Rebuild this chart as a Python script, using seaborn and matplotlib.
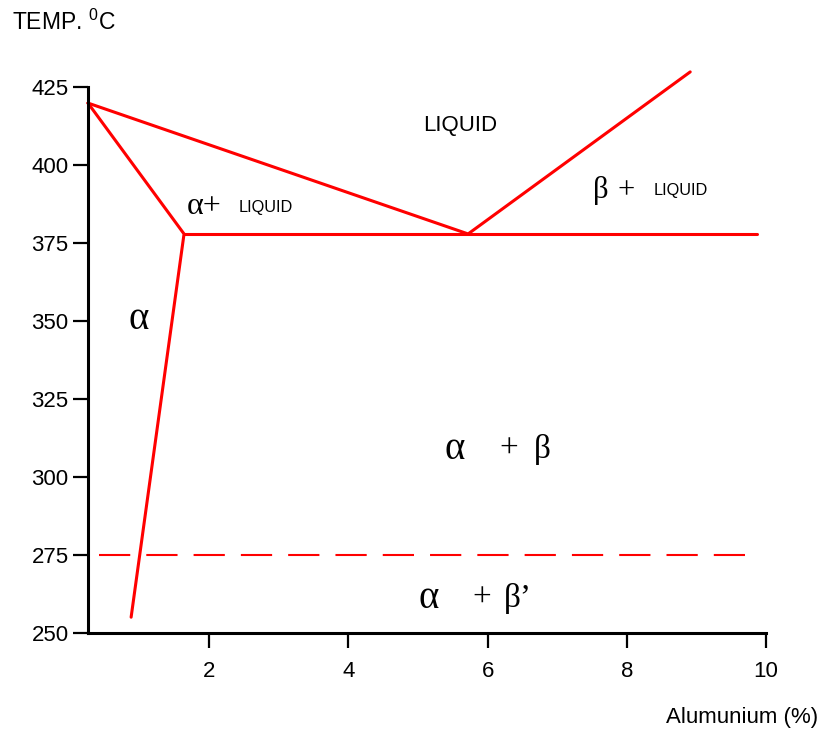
import matplotlib
matplotlib.use("Agg")
import matplotlib.pyplot as plt
import seaborn as sns

# phase boundaries (Al %, temperature C)
liquidus_x = [0.26, 5.72, 8.91]
liquidus_y = [420, 378, 430]
solidus_x = [0.26, 1.64, 0.88]
solidus_y = [420, 378, 255]
eutectic_x = [1.64, 9.87]
eutectic_y = [378, 378]
transition_x = [0.42, 9.70]
transition_y = [275, 275]

x_ticks = [2, 4, 6, 8, 10]
y_ticks = [250, 275, 300, 325, 350, 375, 400, 425]

sns.set_style("ticks", {'axes.edgecolor': 'black', 'text.color': 'black',
                        'xtick.color': 'black', 'ytick.color': 'black'})
plt.rcParams['font.family'] = ['Liberation Sans', 'DejaVu Sans']
plt.rcParams['mathtext.fontset'] = 'custom'
plt.rcParams['mathtext.rm'] = 'Liberation Sans'

fig = plt.figure(figsize=(8.22, 7.29), dpi=100)
ax = fig.add_axes([0.107, 0.132, 0.825, 0.748])

red = '#ff0000'
for xs, ys in [(liquidus_x, liquidus_y), (solidus_x, solidus_y), (eutectic_x, eutectic_y)]:
    sns.lineplot(x=xs, y=ys, sort=False, estimator=None, color=red, lw=2.2,
                 clip_on=False, ax=ax)
sns.lineplot(x=transition_x, y=transition_y, sort=False, estimator=None, color=red,
             lw=1.5, linestyle=(0, (15, 7.7)), ax=ax)

ax.set_xlim(0.26, 10)
ax.set_ylim(250, 425)
ax.set_xticks(x_ticks)
ax.set_yticks(y_ticks)
sns.despine(ax=ax)
for s in ['left', 'bottom']:
    ax.spines[s].set_linewidth(2.2)
ax.tick_params(axis='both', length=11, width=1.6, labelsize=16, direction='out',
               colors='black')
ax.tick_params(axis='y', pad=3)
ax.tick_params(axis='x', pad=9)

# region labels
serif = ['Liberation Serif', 'DejaVu Serif']
ax.text(5.60, 412.7, 'LIQUID', fontsize=16, ha='center', va='center')
ax.text(1.93, 386.7, 'α+', fontsize=23, family=serif, ha='center', va='center')
ax.text(2.81, 386.4, 'LIQUID', fontsize=11.7, ha='center', va='center')
ax.text(7.63, 391.8, 'β', fontsize=22, family=serif, ha='center', va='center')
ax.text(7.99, 391.8, '+', fontsize=22, family=serif, ha='center', va='center')
ax.text(8.78, 391.8, 'LIQUID', fontsize=11.7, ha='center', va='center')
ax.text(0.99, 350.4, 'α', fontsize=28, family=serif, ha='center', va='center')
ax.text(5.53, 308.7, 'α', fontsize=28, family=serif, ha='center', va='center')
ax.text(6.30, 308.7, '+', fontsize=24, family=serif, ha='center', va='center')
ax.text(6.78, 308.7, 'β', fontsize=24, family=serif, ha='center', va='center')
ax.text(5.15, 261.1, 'α', fontsize=28, family=serif, ha='center', va='center')
ax.text(5.92, 261.1, '+', fontsize=24, family=serif, ha='center', va='center')
ax.text(6.43, 261.1, 'β’', fontsize=24, family=serif, ha='center', va='center')

fig.text(12 / 822, 1 - 22 / 729, r'TEMP. $^{0}$C', fontsize=16.5, ha='left', va='center')
fig.text(818 / 822, 1 - 717 / 729, 'Alumunium (%)', fontsize=16, ha='right', va='center')

fig.savefig('out.png', dpi=100)
